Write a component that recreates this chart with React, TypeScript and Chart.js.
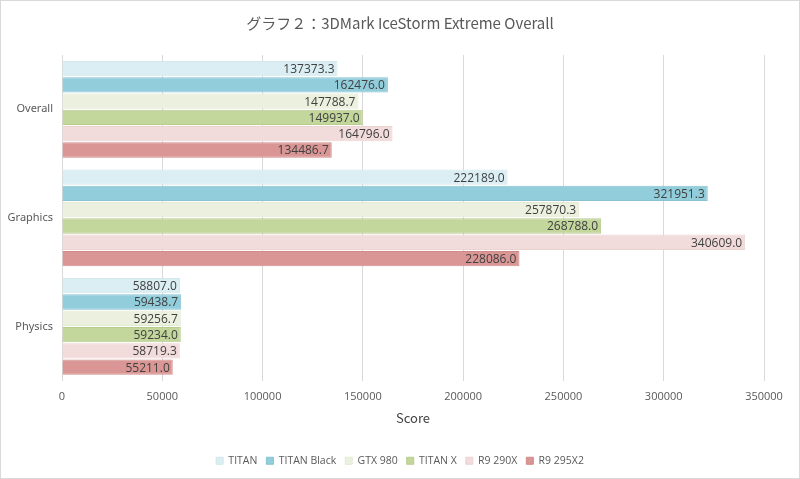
import React, { useEffect, useRef } from "react";
import { Chart, registerables } from "chart.js";

Chart.register(...registerables);

const categories = ["Overall", "Graphics", "Physics"];
const seriesNames = ["TITAN", "TITAN Black", "GTX 980", "TITAN X", "R9 290X", "R9 295X2"];
const titan = [137373.3, 222189.0, 58807.0];
const titanBlack = [162476.0, 321951.3, 59438.7];
const gtx980 = [147788.7, 257870.3, 59256.7];
const titanX = [149937.0, 268788.0, 59234.0];
const r9290x = [164796.0, 340609.0, 58719.3];
const r9295x2 = [134486.7, 228086.0, 55211.0];
const seriesValues = [titan, titanBlack, gtx980, titanX, r9290x, r9295x2];
const fills = ["#DAEEF3", "#92CDDC", "#EBF1DE", "#C3D69B", "#F2DCDB", "#D99694"];
const borders = ["#D3E7EC", "#86C2D2", "#E3EAD3", "#B8CC90", "#EBD3D2", "#CF8A88"];

const FONT = "'Noto Sans CJK JP', 'Noto Sans', sans-serif";
const NUMFONT = "'Open Sans', 'Noto Sans', sans-serif";

const labelPlugin = {
  id: "barLabels",
  afterDatasetsDraw(chart: any) {
    const ctx = chart.ctx;
    ctx.save();
    ctx.font = `12px ${NUMFONT}`;
    ctx.fillStyle = "#404040";
    ctx.textAlign = "right";
    ctx.textBaseline = "middle";
    chart.data.datasets.forEach((ds: any, i: number) => {
      const meta = chart.getDatasetMeta(i);
      meta.data.forEach((bar: any, j: number) => {
        ctx.fillText(Number(ds.data[j]).toFixed(1), bar.x - 3, bar.y + 1);
      });
    });
    ctx.restore();
  },
};

export default function App() {
  const ref = useRef<HTMLCanvasElement | null>(null);
  useEffect(() => {
    if (!ref.current) return;
    const chart = new Chart(ref.current, {
      type: "bar",
      data: {
        labels: categories,
        datasets: seriesNames.map((name, i) => ({
          label: name,
          data: seriesValues[i],
          backgroundColor: fills[i],
          borderColor: borders[i],
          borderWidth: 1,
          barPercentage: 0.94,
          categoryPercentage: 0.9,
        })),
      },
      options: {
        indexAxis: "y",
        animation: false,
        responsive: false,
        layout: { padding: { left: 0, right: 0, top: 4, bottom: 2 } },
        scales: {
          x: {
            min: 0,
            max: 350000,
            ticks: {
              stepSize: 50000,
              color: "#595959",
              font: { family: NUMFONT, size: 11 },
              padding: 10,
              callback: (v: any) => String(v),
            },
            grid: { color: "#D9D9D9", drawTicks: false },
            border: { display: false },
            title: { display: true, text: "Score", color: "#404040", font: { family: FONT, size: 13 }, padding: { top: -4, bottom: 21 } },
          },
          y: {
            afterFit: (axis: any) => { axis.width = 61; },
            ticks: { color: "#595959", font: { family: "'Noto Sans', sans-serif", size: 11 }, padding: 9 },
            grid: { display: false, drawTicks: false },
            border: { display: true, color: "#D9D9D9" },
          },
          yRight: {
            type: "category",
            position: "right",
            labels: categories,
            afterFit: (axis: any) => { axis.width = 35; },
            ticks: { display: false },
            grid: { display: false, drawTicks: false },
            border: { display: false },
          },
        },
        plugins: {
          title: {
            display: true,
            text: "グラフ２：3DMark IceStorm Extreme Overall",
            color: "#595959",
            font: { family: FONT, size: 15, weight: "normal" },
            padding: { top: 9, bottom: 23 },
          },
          legend: {
            position: "bottom",
            labels: {
              boxWidth: 7,
              boxHeight: 7,
              color: "#595959",
              font: { family: NUMFONT, size: 10.5 },
              padding: 9,
            },
          },
          tooltip: { enabled: false },
        },
      },
      plugins: [labelPlugin],
    });
    return () => chart.destroy();
  }, []);
  return (
    <div style={{ position: "fixed", left: 0, top: 0, width: 800, height: 479, background: "#fff", boxSizing: "border-box", border: "1px solid #D9D9D9" }}>
      <canvas ref={ref} width={798} height={477} style={{ display: "block" }} />
    </div>
  );
}
